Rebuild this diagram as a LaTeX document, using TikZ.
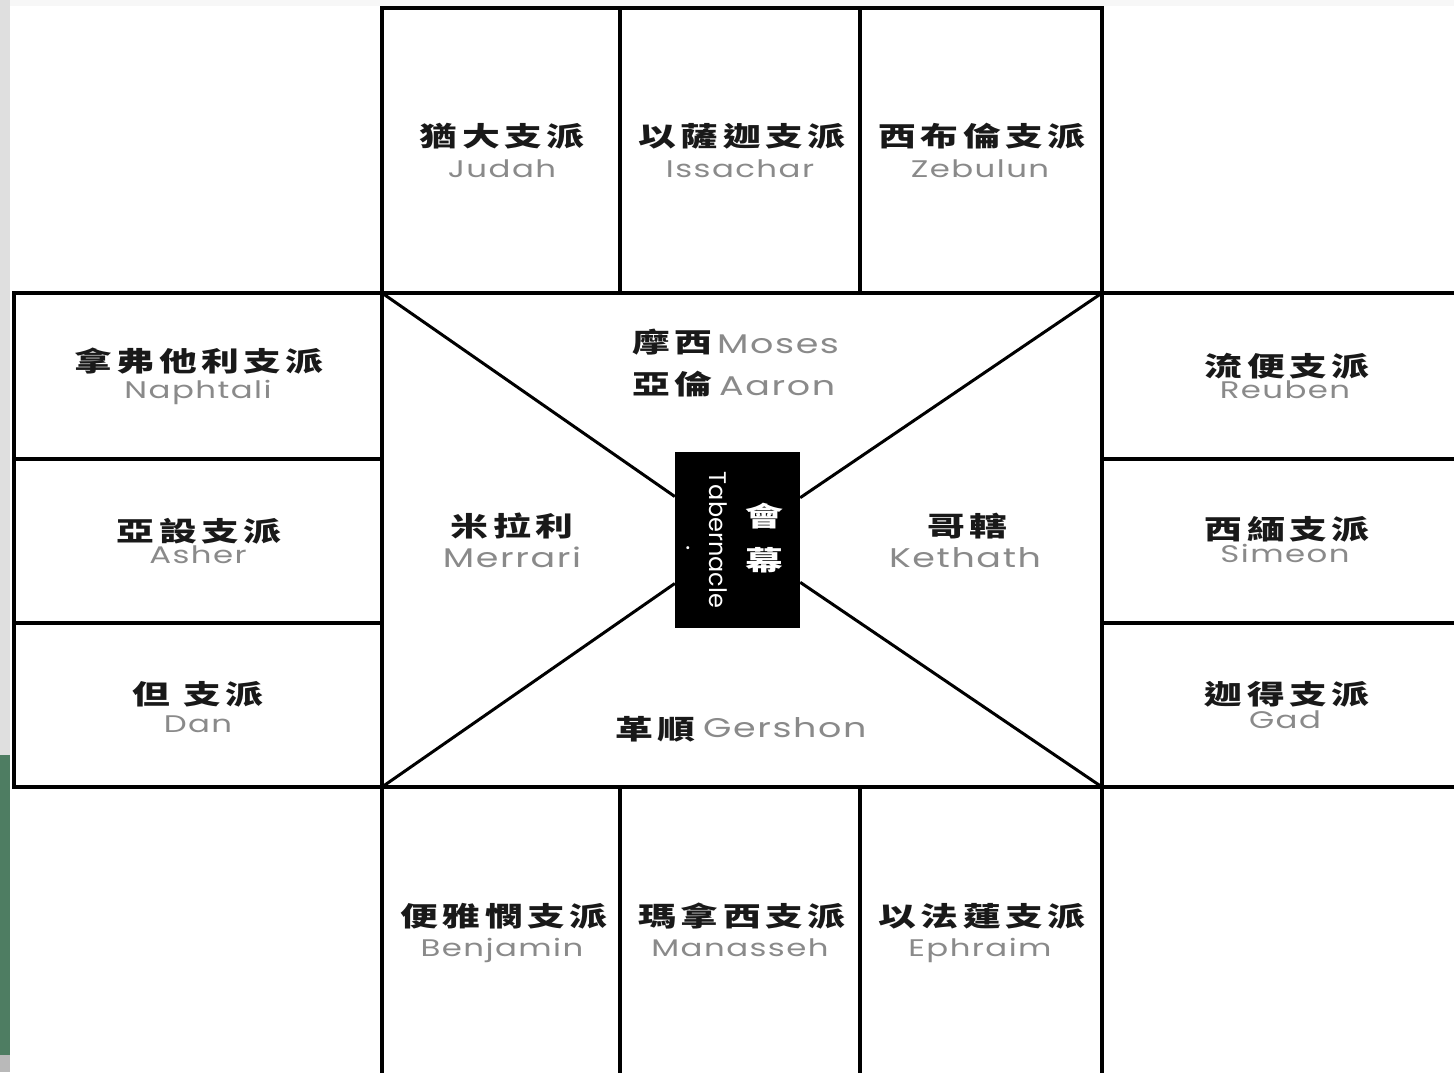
\documentclass[tikz,border=0pt]{standalone}
\usepackage{fontspec}
\newfontfamily\zhfont{Noto Sans CJK TC}[FakeStretch=1.4,LetterSpace=16]
\newfontfamily\enfont{Poppins}[FakeStretch=1.35,LetterSpace=6]
\newfontfamily\tabfont{Poppins}
\definecolor{engray}{HTML}{8A8A8A}
\definecolor{stripgreen}{HTML}{4E7D62}
\begin{document}
\begin{tikzpicture}[x=1pt,y=-1pt,
        wall/.style={line width=4pt,line cap=rect},
        zh/.style={font=\zhfont\bfseries\fontsize{27}{30}\selectfont,text=black!90,inner sep=0pt,anchor=base},
        en/.style={font=\enfont\fontsize{24}{26}\selectfont,text=engray,inner sep=0pt,anchor=base},
        enbig/.style={font=\enfont\fontsize{27}{30}\selectfont,text=engray,inner sep=0pt,anchor=base}]
    \useasboundingbox (0,0) rectangle (1454,1072);
    \fill[white!97!black] (0,0) rectangle (1454,1072);
    \fill[white] (10,6) rectangle (1454,1072);
    \fill[gray!25] (0,0) rectangle (10,755);
    \fill[stripgreen] (0,755) rectangle (10,1055);
    \fill[gray!55] (0,1055) rectangle (10,1072);
    % camp grid
    \draw[wall] (382,8) rectangle (1102,293);
    \draw[wall] (620,8) -- (620,293) (860,8) -- (860,293);
    \draw[wall] (14,293) rectangle (382,787);
    \draw[wall] (14,459) -- (382,459) (14,623) -- (382,623);
    \draw[wall] (382,293) rectangle (1102,787);
    \draw[wall] (1102,293) -- (1454,293) (1102,459) -- (1454,459)
        (1102,623) -- (1454,623) (1102,787) -- (1454,787);
    \draw[wall] (382,787) -- (382,1072) (620,787) -- (620,1072)
        (860,787) -- (860,1072) (1102,787) -- (1102,1072);
    % tabernacle and diagonals
    \coordinate (sqNW) at (382,293);
    \coordinate (sqNE) at (1102,293);
    \coordinate (sqSW) at (382,787);
    \coordinate (sqSE) at (1102,787);
    \node[fill=black,minimum width=125pt,minimum height=176pt,inner sep=0pt] (tab) at (737.5,540) {};
    \draw[line width=3pt] (sqNW) -- (tab) (sqNE) -- (tab) (sqSW) -- (tab) (sqSE) -- (tab);
    \node[font=\tabfont\fontsize{24}{26}\selectfont,text=white,rotate=-90,inner sep=0pt] (tabEn) at (718,540) {Tabernacle};
    \node[font=\zhfont\bfseries\fontsize{27}{44}\selectfont,text=white,align=center,inner sep=0pt] (tabZh) at (764,538) {會\\幕};
    \node[font=\tabfont\fontsize{24}{26}\selectfont,text=white,inner sep=0pt] (tabDot) at (688,548) {.};
    % north
    \node[zh] (judahZh) at (502,146) {猶大支派};
    \node[en] (judahEn) at (502,177) {Judah};
    \node[zh] (issacharZh) at (742,146) {以薩迦支派};
    \node[en] (issacharEn) at (740,177) {Issachar};
    \node[zh] (zebulunZh) at (982,146) {西布倫支派};
    \node[en] (zebulunEn) at (980,177) {Zebulun};
    % west
    \node[zh] (naphtaliZh) at (199,371) {拿弗他利支派};
    \node[en] (naphtaliEn) at (198,398) {Naphtali};
    \node[zh] (asherZh) at (199,541) {亞設支派};
    \node[en] (asherEn) at (198,563) {Asher};
    \node[zh] (danZh) at (198,704) {但\ 支派};
    \node[en] (danEn) at (198,732) {Dan};
    % east
    \node[zh] (reubenZh) at (1287,376) {流便支派};
    \node[en] (reubenEn) at (1285,398) {Reuben};
    \node[zh] (simeonZh) at (1287,539) {西緬支派};
    \node[en] (simeonEn) at (1285,562) {Simeon};
    \node[zh] (gadZh) at (1287,704) {迦得支派};
    \node[en] (gadEn) at (1285,728) {Gad};
    % south
    \node[zh] (benjaminZh) at (504,926) {便雅憫支派};
    \node[en] (benjaminEn) at (502,956) {Benjamin};
    \node[zh] (manassehZh) at (742,926) {瑪拿西支派};
    \node[en] (manassehEn) at (740,956) {Manasseh};
    \node[zh] (ephraimZh) at (982,926) {以法蓮支派};
    \node[en] (ephraimEn) at (980,956) {Ephraim};
    % levites
    \node[zh,anchor=base east] (mosesZh) at (713,352) {摩西};
    \node[enbig,anchor=base west] (mosesEn) at (717,353) {Moses};
    \node[zh,anchor=base east] (aaronZh) at (713,394) {亞倫};
    \node[enbig,anchor=base west] (aaronEn) at (719,395) {Aaron};
    \node[zh] (merrariZh) at (512,536) {米拉利};
    \node[enbig] (merrariEn) at (512,567) {Merrari};
    \node[zh] (kethathZh) at (967,536) {哥轄};
    \node[enbig] (kethathEn) at (965,567) {Kethath};
    \node[zh,anchor=base east] (gershonZh) at (696,739) {革順};
    \node[enbig,anchor=base west] (gershonEn) at (703,737) {Gershon};
\end{tikzpicture}
\end{document}
